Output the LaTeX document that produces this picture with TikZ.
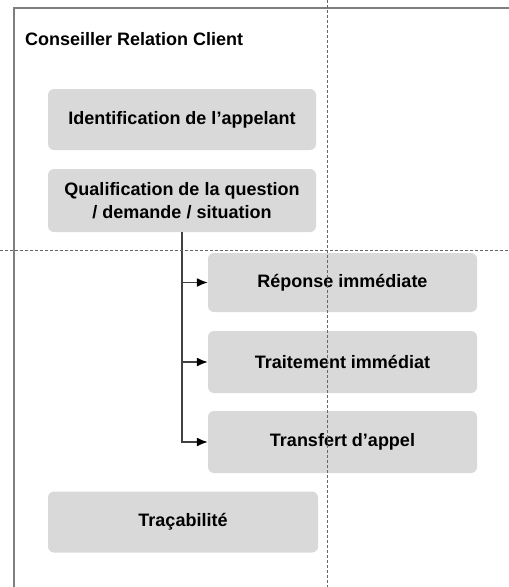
\documentclass[tikz,border=0pt]{standalone}
\usepackage{fontspec}
\setmainfont{Liberation Sans}
\usetikzlibrary{arrows.meta}

\definecolor{boxgray}{HTML}{D9D9D9}
\definecolor{framegray}{HTML}{7F7F7F}

\tikzset{
  step box/.style={rounded corners=6pt, fill=boxgray, draw=none,
    minimum height=61pt, align=center,
    font=\fontsize{18}{23}\selectfont\bfseries},
  guide/.style={densely dashed, black!60, line width=0.6pt},
  flow/.style={draw=black!75, line width=1.4pt, -{Latex[length=11pt,width=9pt,black]}}
}

\begin{document}
\begin{tikzpicture}[x=1pt, y=-1pt]
  \useasboundingbox (0,0) rectangle (509,587);

  % lane
  \draw[framegray, line width=1.5pt] (509,8) -- (14,8) -- (14,587);
  \node[anchor=west, inner sep=0pt, font=\fontsize{18}{23}\selectfont\bfseries] (lane) at (25,39) {Conseiller Relation Client};

  % left column
  \node[step box, minimum width=268pt] (ident) at (182,119.5) {Identification de l'appelant};
  \node[step box, minimum width=268pt, minimum height=63pt] (qualif) at (182,200.5) {Qualification de la question\\/ demande / situation};
  \node[step box, minimum width=270pt] (trace) at (183,522) {Traçabilité};

  % right column
  \node[step box, minimum width=269pt, minimum height=59pt] (reponse) at (342.5,282.5) {Réponse immédiate};
  \node[step box, minimum width=269pt, minimum height=62pt] (traitement) at (342.5,362) {Traitement immédiat};
  \node[step box, minimum width=269pt, minimum height=62pt] (transfert) at (342.5,442) {Transfert d’appel};

  % branches
  \foreach \target in {reponse, traitement, transfert}
    \draw[flow] (qualif.south) |- (\target.west);

  % guides (on top)
  \draw[guide] (327,0) -- (327,587);
  \draw[guide] (0,250) -- (509,250);
\end{tikzpicture}
\end{document}
